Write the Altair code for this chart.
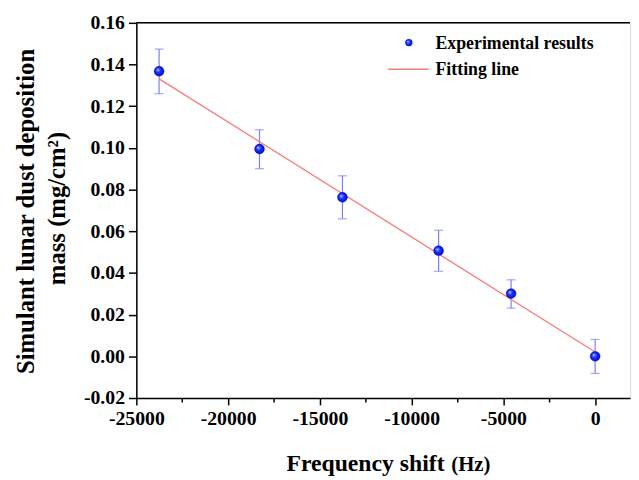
import altair as alt
import pandas as pd

# ---- data ----
freq = [-23760, -18290, -13770, -8530, -4580, 0]
mass = [0.1368, 0.0995, 0.0763, 0.0507, 0.0301, 0.0000]
err_lo = [0.1260, 0.0900, 0.0660, 0.0408, 0.0231, -0.0082]
err_hi = [0.1474, 0.1087, 0.0866, 0.0605, 0.0367, 0.0081]

fit_x = [-23760, 0]
fit_y = [0.1331, 0.0021]

x_ticks = [-25000, -22500, -20000, -17500, -15000, -12500, -10000, -7500, -5000, -2500, 0]
y_ticks = [round(-0.02 + 0.01 * i, 2) for i in range(19)]

legend_labels = ["Experimental results", "Fitting line"]
x_title = "Frequency shift"
x_unit = "(Hz)"
y_title = ["Simulant lunar dust deposition", "mass (mg/cm²)"]

df = pd.DataFrame({"freq": freq, "mass": mass, "lo": err_lo, "hi": err_hi})
fit_df = pd.DataFrame({"freq": fit_x, "mass": fit_y})

W, H = 500, 380
FONT = "Liberation Serif"
XDOM = [-25000, 1900]
YDOM = [-0.02, 0.16]

xscale = alt.Scale(domain=XDOM, nice=False, zero=False)
yscale = alt.Scale(domain=YDOM, nice=False, zero=False)

x_axis = alt.Axis(
    values=x_ticks,
    title=None,
    grid=False,
    labelExpr="datum.value % 5000 != 0 ? '' : toString(datum.value)",
    tickSize={"condition": {"test": "datum.value % 5000 != 0", "value": 4}, "value": 7},
    labelFont=FONT, labelFontSize=20, labelFontWeight="bold", labelColor="black",
    labelPadding=4, labelOverlap=False, labelFlush=False,
    domainColor="black", domainWidth=1.5, tickColor="black", tickWidth=1.5,
)
y_axis = alt.Axis(
    values=y_ticks,
    title=None,
    grid=False,
    labelExpr="abs(round(datum.value*100)) % 2 == 1 ? '' : replace(format(datum.value, '.2f'), '−', '-')",
    tickSize={"condition": {"test": "abs(round(datum.value*100)) % 2 == 1", "value": 4}, "value": 8},
    labelFont=FONT, labelFontSize=20, labelFontWeight="bold", labelColor="black",
    labelPadding=4, labelOverlap=False, labelFlush=False,
    domainColor="black", domainWidth=1.5, tickColor="black", tickWidth=1.5,
)

sphere = {
    "gradient": "radial",
    "stops": [
        {"offset": 0, "color": "#c0ccff"},
        {"offset": 0.45, "color": "#1530ff"},
        {"offset": 1, "color": "#0008d0"},
    ],
    "x1": 0.35, "y1": 0.35, "r1": 0,
    "x2": 0.5, "y2": 0.5, "r2": 0.55,
}

ERR_COLOR = "#7d80f5"
FIT_COLOR = "#f77b7b"

base = alt.Chart(df)

err_rule = base.mark_rule(color=ERR_COLOR, strokeWidth=1.2).encode(
    x=alt.X("freq:Q", scale=xscale, axis=x_axis),
    y=alt.Y("lo:Q", scale=yscale, axis=y_axis),
    y2="hi:Q",
)
cap_lo = base.mark_tick(color=ERR_COLOR, orient="horizontal", size=9, thickness=1.2).encode(
    x=alt.X("freq:Q", scale=xscale), y=alt.Y("lo:Q", scale=yscale)
)
cap_hi = base.mark_tick(color=ERR_COLOR, orient="horizontal", size=9, thickness=1.2).encode(
    x=alt.X("freq:Q", scale=xscale), y=alt.Y("hi:Q", scale=yscale)
)

fit_line = alt.Chart(fit_df).mark_line(color=FIT_COLOR, strokeWidth=1.3).encode(
    x=alt.X("freq:Q", scale=xscale), y=alt.Y("mass:Q", scale=yscale)
)

points = base.mark_circle(size=100, fill=sphere, opacity=1, stroke="#0000b0", strokeWidth=0.4).encode(
    x=alt.X("freq:Q", scale=xscale), y=alt.Y("mass:Q", scale=yscale)
)

top_border = alt.Chart(pd.DataFrame({"v": [YDOM[1]]})).mark_rule(color="black", strokeWidth=1.5).encode(
    y=alt.Y("v:Q", scale=yscale)
)

# ---- legend (drawn manually) ----
leg_point = alt.Chart(pd.DataFrame({"label": [legend_labels[0]]})).mark_circle(
    size=55, fill=sphere, opacity=1
).encode(x=alt.value(276), y=alt.value(20))
leg_line = alt.Chart(pd.DataFrame({"label": [legend_labels[1]]})).mark_rule(
    color=FIT_COLOR, strokeWidth=1.3
).encode(x=alt.value(255), x2=alt.value(296), y=alt.value(47))
leg_text1 = alt.Chart(pd.DataFrame({"label": [legend_labels[0]]})).mark_text(
    align="left", baseline="middle", font=FONT, fontSize=18, fontWeight="bold", color="black"
).encode(x=alt.value(303), y=alt.value(21), text="label:N")
leg_text2 = alt.Chart(pd.DataFrame({"label": [legend_labels[1]]})).mark_text(
    align="left", baseline="middle", font=FONT, fontSize=18, fontWeight="bold", color="black"
).encode(x=alt.value(303), y=alt.value(48), text="label:N")

# ---- axis titles ----
xt1 = alt.Chart(pd.DataFrame({"t": [x_title]})).mark_text(
    align="left", baseline="alphabetic", font=FONT, fontSize=24, fontWeight="bold", color="black"
).encode(x=alt.value(152), y=alt.value(454), text="t:N")
xt2 = alt.Chart(pd.DataFrame({"t": [x_unit]})).mark_text(
    align="left", baseline="alphabetic", font=FONT, fontSize=21, fontWeight="bold", color="black"
).encode(x=alt.value(319), y=alt.value(454), text="t:N")
yt1 = alt.Chart(pd.DataFrame({"t": [y_title[0]]})).mark_text(
    align="center", baseline="middle", angle=270, font=FONT, fontSize=25, fontWeight="bold", color="black"
).encode(x=alt.value(-112), y=alt.value(191), text="t:N")
yt2 = alt.Chart(pd.DataFrame({"t": [y_title[1]]})).mark_text(
    align="center", baseline="middle", angle=270, font=FONT, fontSize=25, fontWeight="bold", color="black"
).encode(x=alt.value(-80), y=alt.value(188), text="t:N")

chart = alt.layer(
    top_border, err_rule, cap_lo, cap_hi, fit_line, points,
    leg_point, leg_line, leg_text1, leg_text2, xt1, xt2, yt1, yt2,
).properties(
    width=W, height=H,
    autosize=alt.AutoSizeParams(type="none"),
    padding={"left": 130, "top": 12, "right": 1, "bottom": 80},
).configure_view(stroke=None).configure(background="white")

chart.save("out.html", embed_options={"renderer": "svg", "actions": False})
